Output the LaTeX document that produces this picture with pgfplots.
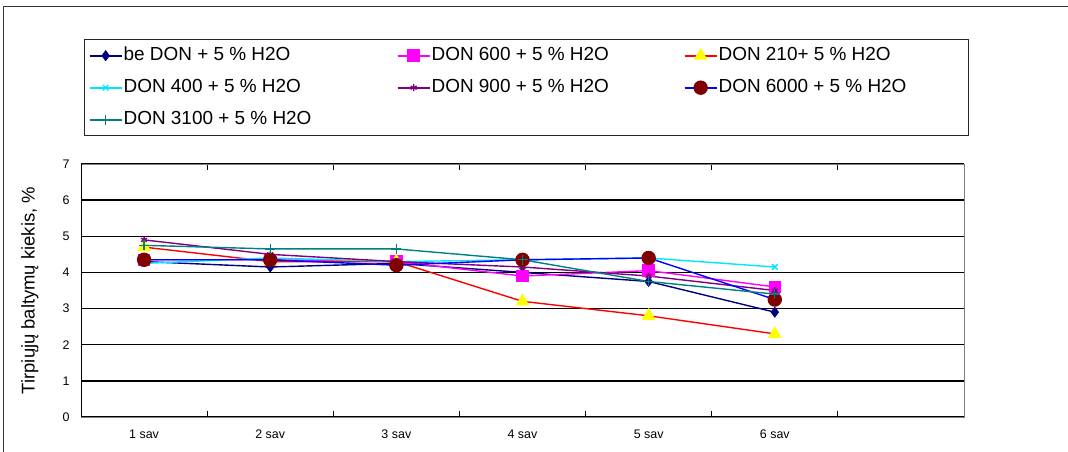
\documentclass[border=0pt]{standalone}
\usepackage{fontspec}
\setmainfont{Liberation Sans}
\usepackage{pgfplots}
\pgfplotsset{compat=1.18}
\usetikzlibrary{plotmarks}
\definecolor{cnavy}{RGB}{0,0,128}
\definecolor{cmag}{RGB}{255,0,255}
\definecolor{cred}{RGB}{255,0,0}
\definecolor{cyell}{RGB}{255,255,0}
\definecolor{ccyan}{RGB}{0,230,255}
\definecolor{cpurp}{RGB}{128,0,128}
\definecolor{cblue}{RGB}{0,0,255}
\definecolor{cdred}{RGB}{128,0,0}
\definecolor{cteal}{RGB}{0,128,128}
\newcommand{\legimg}[2]{\draw[draw=#1, line width=2bp] (0bp,0bp) -- (32bp,0bp); \draw[draw=#1, mark repeat=2, mark phase=2, #2] plot coordinates {(0bp,0bp) (16bp,0bp) (32bp,0bp)};}
\begin{document}
\begin{tikzpicture}
\useasboundingbox (0,0) rectangle (1068bp,452bp);
\draw[line width=1bp, black!80] (3bp,0) -- (3bp,445bp) -- (1068bp,445bp);
\begin{axis}[
  at={(81bp,35bp)}, anchor=south west,
  scale only axis, width=883bp, height=253bp,
  xmin=0.5, xmax=7.5, ymin=0, ymax=7,
  xtick={1,2,3,4,5,6},
  xticklabels={1 sav,2 sav,3 sav,4 sav,5 sav,6 sav},
  minor xtick={1.5,2.5,3.5,4.5,5.5,6.5},
  ytick={0,1,2,3,4,5,6,7},
  every major x tick/.append style={draw=none},
  tick align=inside,
  major tick length=5bp, minor tick length=6bp,
  tick style={black, line width=1bp},
  ymajorgrids,
  grid style={black, line width=1.3bp},
  axis line style={gray, line width=1bp},
  /pgf/number format/assume math mode=true,
  ticklabel style={font=\fontsize{12.5}{14}\selectfont},
  yticklabel style={xshift=-8bp},
  xticklabel style={anchor=base, yshift=-21.5bp},
  ylabel={Tirpiųjų baltymų kiekis, \%},
  ylabel style={at={(axis description cs:-0.0578,0.5)}, anchor=center, font=\fontsize{18.5}{20}\selectfont},
  legend columns=3,
  legend style={at={(axis description cs:0.0034,1.494)}, anchor=north west,
    draw=black!85, line width=1.3bp, inner xsep=4bp, inner ysep=0bp,
    font=\fontsize{19}{22}\selectfont,
    nodes={inner ysep=7.25bp, inner xsep=1bp, text height=13.5bp, text depth=4bp},
    row sep=0bp, /tikz/every even column/.append style={column sep=0bp}},
  legend cell align=left,
]
\addplot[line width=1.4bp, color=cnavy, mark=diamond*, mark size=4.5bp, mark options={fill=cnavy, draw=cnavy},
  legend image code/.code={\legimg{cnavy}{mark=diamond*, mark size=4.5bp, mark options={fill=cnavy, draw=cnavy}}}]
  coordinates {(1,4.3) (2,4.15) (3,4.25) (4,4.0) (5,3.75) (6,2.9)};
\addlegendentry{\makebox[272bp][l]{be DON + 5 \% H2O}}
\addplot[line width=1.4bp, color=cmag, mark=square*, mark size=5.5bp, mark options={fill=cmag, draw=cmag},
  legend image code/.code={\legimg{cmag}{mark=square*, mark size=5.5bp, mark options={fill=cmag, draw=cmag}}}]
  coordinates {(1,4.35) (2,4.35) (3,4.3) (4,3.9) (5,4.05) (6,3.6)};
\addlegendentry{\makebox[251bp][l]{DON 600 + 5 \% H2O}}
\addplot[line width=1.4bp, color=cred, mark=triangle*, mark size=6.5bp, mark options={fill=cyell, draw=cyell},
  legend image code/.code={\legimg{cred}{mark=triangle*, mark size=6.5bp, mark options={fill=cyell, draw=cyell}}}]
  coordinates {(1,4.7) (2,4.3) (3,4.3) (4,3.2) (5,2.8) (6,2.3)};
\addlegendentry{\makebox[245bp][l]{DON 210+ 5 \% H2O}}
\addplot[line width=1.4bp, color=ccyan, mark=x, mark size=4bp, mark options={draw=ccyan},
  legend image code/.code={\legimg{ccyan}{mark=x, mark size=4bp, mark options={draw=ccyan, line width=1.3bp}}}]
  coordinates {(1,4.25) (2,4.4) (3,4.3) (4,4.35) (5,4.4) (6,4.15)};
\addlegendentry{DON 400 + 5 \% H2O}
\addplot[line width=1.4bp, color=cpurp, mark=asterisk, mark size=3.5bp, mark options={draw=cpurp},
  legend image code/.code={\legimg{cpurp}{mark=asterisk, mark size=3.5bp, mark options={draw=cpurp, line width=1.3bp}}}]
  coordinates {(1,4.9) (2,4.5) (3,4.3) (4,4.15) (5,3.9) (6,3.5)};
\addlegendentry{DON 900 + 5 \% H2O}
\addplot[line width=1.4bp, color=cblue, mark=*, mark size=6.5bp, mark options={fill=cdred, draw=cdred},
  legend image code/.code={\legimg{cblue}{mark=*, mark size=6.5bp, mark options={fill=cdred, draw=cdred}}}]
  coordinates {(1,4.35) (2,4.35) (3,4.2) (4,4.35) (5,4.4) (6,3.25)};
\addlegendentry{DON 6000 + 5 \% H2O}
\addplot[line width=1.4bp, color=cteal, mark=+, mark size=5bp, mark options={draw=cteal},
  legend image code/.code={\legimg{cteal}{mark=+, mark size=5bp, mark options={draw=cteal, line width=1.3bp}}}]
  coordinates {(1,4.75) (2,4.65) (3,4.65) (4,4.35) (5,3.75) (6,3.4)};
\addlegendentry{DON 3100 + 5 \% H2O}
\draw[black, line width=1.4bp] (rel axis cs:0,1) -- (rel axis cs:0,0) -- (rel axis cs:1,0);
\end{axis}
\end{tikzpicture}
\end{document}
